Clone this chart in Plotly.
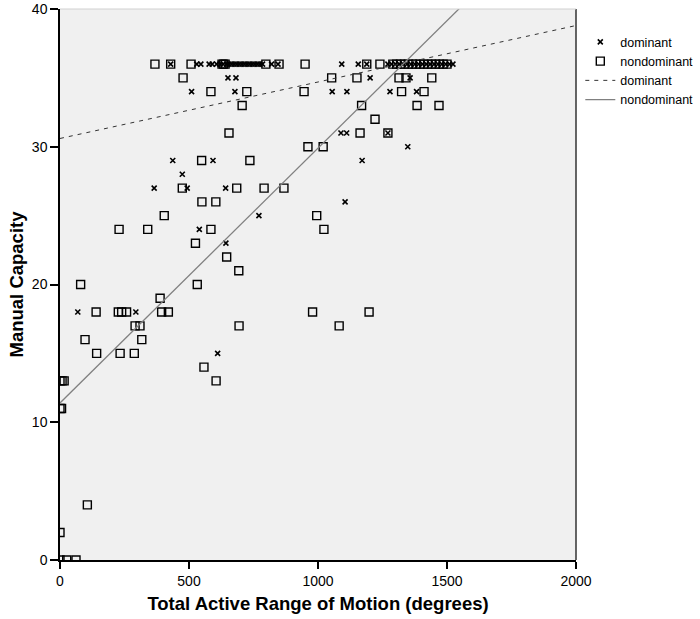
import plotly.graph_objects as go

# Dominant hand: (range of motion, manual capacity)
dom_x = [429, 530, 546, 578, 590, 607, 620, 633, 645, 655, 665, 675, 685, 695, 705, 715,
         725, 735, 745, 755, 765, 775, 785, 820, 845, 1092, 1156, 1189, 1271, 1285, 1300,
         1315, 1330, 1345, 1360, 1375, 1390, 1405, 1420, 1435, 1450, 1465, 1480, 1495, 1510, 1523,
         651, 682, 1202, 1357,
         510, 678, 1055, 1112, 1279, 1382,
         1089, 1111, 1271,
         1348,
         437, 593, 1171,
         474,
         365, 493, 642,
         1105,
         771,
         540,
         643,
         69, 294,
         611]
dom_y = [36] * 46 + [35] * 4 + [34] * 6 + [31] * 3 + [30] + [29] * 3 + [28] + [27] * 3 + \
        [26] + [25] + [24] + [23] + [18] * 2 + [15]

# Nondominant hand
nondom_x = [368, 429, 508, 628, 634, 640, 798, 849, 950, 1189, 1240, 1290, 1305, 1320, 1335,
            1350, 1365, 1380, 1395, 1410, 1425, 1440, 1455, 1470, 1485, 1500,
            477, 1053, 1151, 1314, 1341, 1441,
            585, 724, 946, 1324, 1411,
            706, 1169, 1384, 1469,
            1221,
            655, 1163, 1271,
            961, 1020,
            549, 736,
            474, 685, 791, 868,
            550, 604,
            404, 995,
            229, 340, 585, 1023,
            525,
            646,
            693,
            80, 532,
            388,
            140, 226, 239, 258, 394, 420, 979, 1198,
            291, 310, 694, 1082,
            97, 317,
            142, 233, 288,
            558,
            0, 8, 16, 605,
            0, 6,
            106,
            0,
            0, 26, 62]
nondom_y = [36] * 26 + [35] * 6 + [34] * 5 + [33] * 4 + [32] + [31] * 3 + [30] * 2 + [29] * 2 + \
           [27] * 4 + [26] * 2 + [25] * 2 + [24] * 4 + [23] + [22] + [21] + [20] * 2 + [19] + \
           [18] * 8 + [17] * 4 + [16] * 2 + [15] * 3 + [14] + [13] * 4 + [11] * 2 + [4] + [2] + [0] * 3

# Linear fit lines: intercept and slope for each group
fit_range = [0, 2000]
dom_fit = (30.6, 0.0041)
nondom_fit = (11.4, 0.0185)

font_family = "Liberation Sans, Arial, sans-serif"

fig = go.Figure()
fig.add_trace(go.Scatter(
    x=dom_x, y=dom_y, mode="markers", name="dominant",
    marker=dict(symbol="x-thin", size=5, color="black", line=dict(color="black", width=1.6)),
))
fig.add_trace(go.Scatter(
    x=nondom_x, y=nondom_y, mode="markers", name="nondominant",
    marker=dict(symbol="square-open", size=8, color="black", line=dict(color="black", width=1.4)),
))
fig.add_trace(go.Scatter(
    x=fit_range, y=[dom_fit[0] + dom_fit[1] * v for v in fit_range], mode="lines",
    name="dominant", line=dict(color="#333333", width=1, dash="4px,5px"),
))
fig.add_trace(go.Scatter(
    x=fit_range, y=[nondom_fit[0] + nondom_fit[1] * v for v in fit_range], mode="lines",
    name="nondominant", line=dict(color="#808080", width=1.3),
))

fig.update_layout(
    width=700, height=619,
    margin=dict(l=60, r=124, t=9, b=59, autoexpand=False),
    paper_bgcolor="white",
    plot_bgcolor="#f0f0f0",
    font=dict(family=font_family, size=12, color="black"),
    legend=dict(
        xref="container", yref="container",
        x=0.829, y=0.956, xanchor="left", yanchor="top",
        font=dict(size=12.5, color="black"),
        bgcolor="rgba(0,0,0,0)", tracegroupgap=0, itemwidth=30,
    ),
    xaxis=dict(
        range=[0, 2000], tickvals=[0, 500, 1000, 1500, 2000],
        showgrid=False, zeroline=False,
        showline=True, linecolor="black", linewidth=1.5, mirror=False,
        ticks="outside", ticklen=7, tickcolor="black", tickwidth=1.5,
        tickfont=dict(size=14),
        title=dict(text="Total Active Range of Motion (degrees)",
                   font=dict(size=18.5, family=font_family, weight="bold"), standoff=10),
    ),
    yaxis=dict(
        range=[0, 40], tickvals=[0, 10, 20, 30, 40],
        showgrid=False, zeroline=False,
        showline=True, linecolor="black", linewidth=1.5, mirror=False,
        ticks="outside", ticklen=8, tickcolor="black", tickwidth=1.5,
        tickfont=dict(size=14),
        title=dict(text="Manual Capacity",
                   font=dict(size=18.5, family=font_family, weight="bold"), standoff=3),
    ),
    showlegend=True,
)

# Right and top border of the plotting area
fig.add_shape(type="line", xref="paper", yref="paper", x0=1, x1=1, y0=0, y1=1,
              line=dict(color="#333333", width=1.5))
fig.add_shape(type="line", xref="paper", yref="paper", x0=0, x1=1, y0=1, y1=1,
              line=dict(color="#d0d0d0", width=1))

fig.write_html("out.html")
